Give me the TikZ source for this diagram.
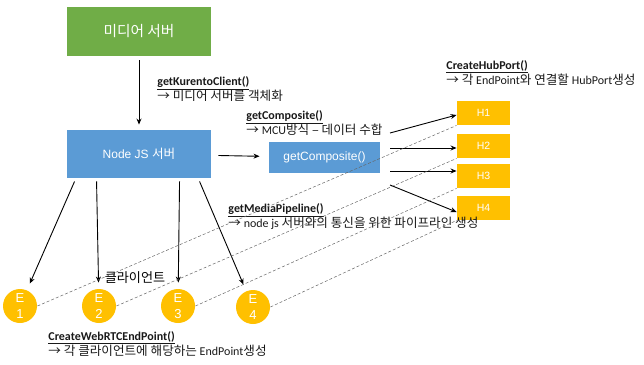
\documentclass[tikz,border=0pt]{standalone}
\usepackage{fontspec}
\setmainfont{Carlito}
\newfontfamily\krfont[Scale=1.05]{Noto Sans CJK KR}
\newfontfamily\boxfont{Liberation Sans}
\newcommand\kr[1]{{\krfont #1}}
\usetikzlibrary{arrows.meta,calc}

\definecolor{srvgreen}{HTML}{70AD47}
\definecolor{srvblue}{HTML}{5B9BD5}
\definecolor{portgold}{HTML}{FFC000}

\begin{document}
\begin{tikzpicture}[x=1pt,y=-1pt,>={Stealth[length=6pt,width=5pt]},
  every path/.style={line width=0.9pt},
  server/.style={fill=#1,text=white,inner sep=0,font=\boxfont\fontsize{12}{14}\selectfont},
  hub/.style={fill=portgold,text=white,minimum width=53pt,minimum height=24pt,inner sep=0,font=\boxfont\fontsize{10.5}{12}\selectfont},
  endpt/.style={circle,fill=portgold,text=white,minimum size=34pt,inner sep=0,align=center,font=\boxfont\fontsize{13}{16}\selectfont},
  note/.style={anchor=north west,inner sep=0,align=left,text=black!90,font=\fontsize{12}{15}\selectfont},
  link/.style={densely dashed,gray!80!black,line width=0.5pt}]

\useasboundingbox (0,0) rectangle (644,364);

% servers
\node[server=srvgreen,minimum width=144pt,minimum height=49pt] (media) at (139,31.5) {\fontsize{14}{16}\selectfont\kr{미디어 서버}};
\node[server=srvblue,minimum width=144pt,minimum height=48pt] (nodejs) at (139,154) {Node JS \kr{서버}};
\node[server=srvblue,minimum width=111pt,minimum height=31pt] (comp) at (324.5,157.5) {getComposite()};

% hub ports
\node[hub] (h1) at (483.5,113) {H1};
\node[hub] (h2) at (483.5,146) {H2};
\node[hub] (h3) at (483.5,176) {H3};
\node[hub] (h4) at (483.5,208) {H4};

% clients
\node[endpt] (e1) at (20,306) {E\\1};
\node[endpt] (e2) at (99,306) {E\\2};
\node[endpt] (e3) at (178,306) {E\\3};
\node[endpt] (e4) at (253,307) {E\\4};

\draw [->] (media) edge[shorten <=4pt,shorten >=5pt] (nodejs);
\draw [->] (nodejs) edge[shorten <=7pt,shorten >=9pt] (comp);

\coordinate (c1) at (390,133);
\coordinate (c2) at (390,148);
\coordinate (c3) at (390,171);
\coordinate (c4) at (390,185);
\draw [->] (c1) -- ($(h1.west)+(0,2)$);
\draw [->] (c2) -- ($(h2.west)+(0,2)$);
\draw [->] (c3) -- ($(h3.west)+(0,-5)$);
\draw [->] (c4) -- ($(h4.west)+(0,4)$);

\draw [->, shorten >=7pt] ($(nodejs.south west)+(8,3)$) -- (e1);
\draw [->, shorten >=6pt] ($(nodejs.south west)+(30,3)$) -- (e2);
\draw [->, shorten >=6pt] ($(nodejs.south west)+(113,3)$) -- (e3);
\draw [->, shorten >=7pt] ($(nodejs.south west)+(133,3)$) -- (e4);

\node (clients) at (135,278) {\fontsize{12.5}{14}\selectfont\kr{클라이언트}};

% method notes
\node[note] (kurento) at (157,76) {\underline{\textbf{getKurentoClient()}}\\\kr{→ 미디어 서버를 객체화}};
\node[note] (composite) at (246,110) {\underline{\textbf{getComposite()}}\\\kr{→} MCU\kr{방식 – 데이터 수합}};
\node[note] (hubport) at (446,60) {\underline{\textbf{CreateHubPort()}}\\\kr{→ 각} EndPoint\kr{와 연결할} HubPort\kr{생성}};
\node[note] (pipeline) at (228,203) {\underline{\textbf{getMediaPipeline()}}\\\kr{→} node js \kr{서버와의 통신을 위한 파이프라인 생성}};
\node[note] (webrtc) at (48,331) {\underline{\textbf{CreateWebRTCEndPoint()}}\\\kr{→ 각 클라이언트에 해당하는} EndPoint\kr{생성}};

% endpoint to hub port links
\draw [link] (e1.east) -- (h1.south west);
\draw [link] (e2.east) -- (h2.south west);
\draw [link] (e3.east) -- (h3.south west);
\draw [link] (e4.east) -- (h4.south west);

\end{tikzpicture}
\end{document}
